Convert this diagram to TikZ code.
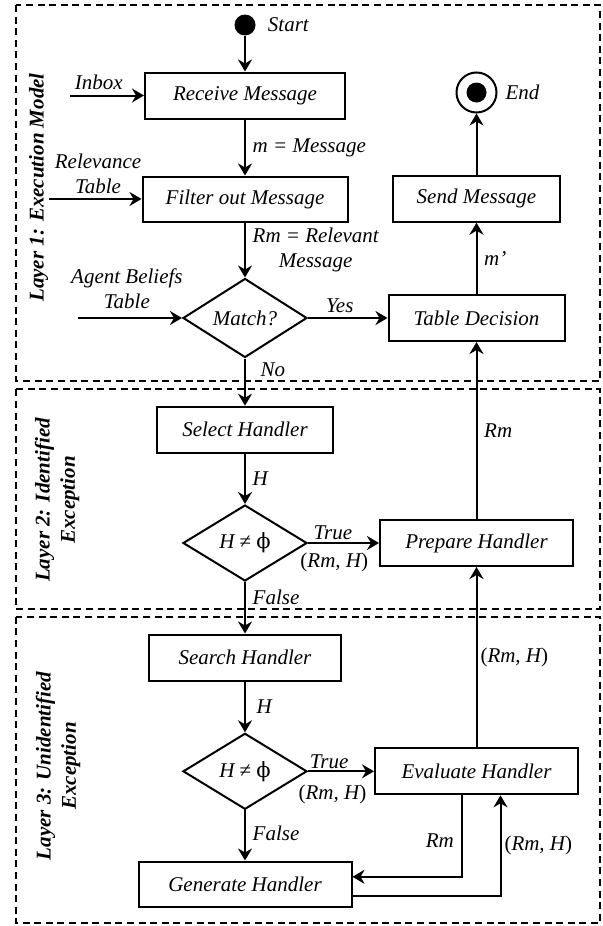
\documentclass[tikz,border=0pt]{standalone}
\usepackage{fontspec}
\setmainfont{Liberation Serif}
\newfontfamily\phifont{DejaVu Serif}
\usetikzlibrary{shapes.geometric, arrows.meta, positioning}

\newcommand{\Hnull}{H {\upshape ≠ {\phifont ϕ}}}
\newcommand{\RmH}{{\upshape(}Rm, H{\upshape)}}

\begin{document}
\begin{tikzpicture}[
    x=0.5pt, y=-0.5pt,
    font=\fontsize{10.5}{12.6}\selectfont\itshape,
    box/.style={rectangle, draw, line width=1pt, minimum height=23pt, align=center},
    cond/.style={diamond, draw, line width=1pt, minimum width=62pt,
                 minimum height=38pt, inner sep=0pt},
    endpt/.style={circle, draw, line width=1pt, minimum size=20pt, inner sep=0pt,
                  path picture={\fill (path picture bounding box.center) circle (5pt);}},
    arr/.style={-{Stealth[length=6pt, width=7pt, inset=2pt]}, line width=1pt},
    layerbox/.style={draw, dash pattern=on 3.5pt off 2.3pt, line width=1pt},
    lbl/.style={font=\fontsize{10.5}{12.6}\selectfont\bfseries\itshape,
                rotate=90, align=center}
]
\useasboundingbox (0,0) rectangle (602,926);

% layers
\draw[layerbox] (16,5) rectangle (600,380.7);
\draw[layerbox] (16,389.3) rectangle (600,609.3);
\draw[layerbox] (16,616.7) rectangle (600,923.3);
\node[lbl] (l1) at (38.5,187.5) {Layer 1: Execution Model};
\node[lbl] (l2) at (57,500) {Layer 2: Identified\\Exception};
\node[lbl] (l3) at (58,766) {Layer 3: Unidentified\\Exception};

% main column
\node[circle, fill, minimum size=10.5pt, inner sep=0pt] (start) at (245,25) {};
\node[right=2.5pt of start] (starttxt) {Start};
\node[box, minimum width=100pt] (recv) at (245,95.5) {Receive Message};
\node[box, minimum width=102.5pt, minimum height=22.5pt] (filt) at (245,199) {Filter out Message};
\node[cond] (match) at (245,318) {Match?};
\node[box, minimum width=88pt] (sel) at (245,429.7) {Select Handler};
\node[cond] (chk1) at (245,543) {\Hnull};
\node[box, minimum width=96pt] (srch) at (245,657.5) {Search Handler};
\node[cond] (chk2) at (245,771.3) {\Hnull};
\node[box, minimum width=106.5pt, minimum height=22.5pt] (gen) at (245,884) {Generate Handler};

% right column
\node[endpt] (fin) at (476.5,92.5) {};
\node[right=0.5pt of fin] (fintxt) {End};
\node[box, minimum width=83.5pt] (send) at (476.5,198.7) {Send Message};
\node[box, minimum width=88pt] (tdec) at (476.5,318) {Table Decision};
\node[box, minimum width=96.5pt] (prep) at (476.5,543) {Prepare Handler};
\node[box, minimum width=101.5pt] (eval) at (476.5,771.3) {Evaluate Handler};

% inputs
\coordinate (inbox) at (70,95.5);
\coordinate (reltab) at (49,199);
\coordinate (belief) at (78,318);
\draw[arr] (inbox) -- node[above, pos=0.39, inner sep=2.5pt]{Inbox} (recv);
\draw[arr] (reltab) -- node[above, pos=0.53, align=center, inner sep=2pt]{Relevance\\Table} (filt);
\draw[arr] (belief) -- node[above, pos=0.47, align=center, inner sep=4pt]{Agent Beliefs\\Table} (match);

% flow
\draw[arr] (start) -- (recv);
\draw[arr] (recv) -- node[right]{m = Message} (filt);
\draw[arr] (filt) -- node[right, align=center]{Rm = Relevant\\Message} (match);
\draw[arr] (match) -- node[above, pos=0.4, inner sep=2pt]{Yes} (tdec);
\draw[arr] (tdec) -- node[right]{m’} (send);
\draw[arr] (send) -- (fin);
\draw[arr] (match) -- node[right, pos=0.24, xshift=4pt]{No} (sel);
\draw[arr] (sel) -- node[right]{H} (chk1);
\draw[arr] (chk1) -- node[above, pos=0.35, inner sep=1pt]{True}
                     node[below, pos=0.37, inner sep=4.5pt]{\RmH} (prep);
\draw[arr] (prep) -- node[right]{Rm} (tdec);
\draw[arr] (chk1) -- node[right, pos=0.3]{False} (srch);
\draw[arr] (srch) -- node[right, xshift=2pt]{H} (chk2);
\draw[arr] (chk2) -- node[above, pos=0.32, inner sep=1pt]{True}
                     node[below, pos=0.37, inner sep=6.5pt]{\RmH} (eval);
\draw[arr] (eval) -- node[right, inner sep=1.5pt]{\RmH} (prep);
\draw[arr] (chk2) -- node[right, pos=0.45]{False} (gen);
\draw[arr] ([xshift=-7.5pt]eval.south) |- node[left, pos=0.28]{Rm} ([yshift=3.6pt]gen.east);
\draw[arr] ([yshift=-5.8pt]gen.east) -| node[right, pos=0.75, inner sep=1.5pt]{\RmH} ([xshift=12pt]eval.south);
\end{tikzpicture}
\end{document}
